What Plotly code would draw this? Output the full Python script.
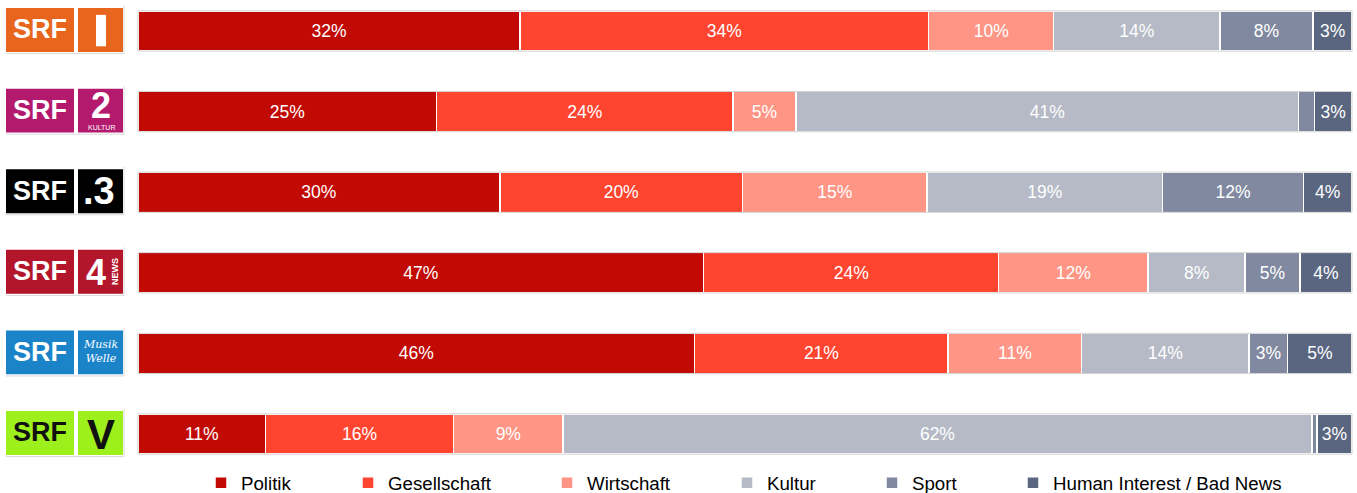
import plotly.graph_objects as go

# ---------------- data ----------------
stations = ["SRF 1", "SRF 2 Kultur", "SRF 3", "SRF 4 News", "SRF Musikwelle", "SRF Virus"]
categories = ["Politik", "Gesellschaft", "Wirtschaft", "Kultur", "Sport", "Human Interest / Bad News"]

politik      = [31.5, 24.6, 29.8, 46.6, 45.9, 10.5]
gesellschaft = [33.7, 24.4, 20.0, 24.3, 20.9, 15.5]
wirtschaft   = [10.3, 5.2, 15.2, 12.3, 11.0, 9.0]
kultur       = [13.7, 41.4, 19.4, 8.0, 13.8, 61.7]
sport        = [7.7, 1.3, 11.6, 4.5, 3.2, 0.4]
human        = [3.2, 3.1, 4.0, 4.3, 5.3, 2.9]

politik_lbl      = ["32%", "25%", "30%", "47%", "46%", "11%"]
gesellschaft_lbl = ["34%", "24%", "20%", "24%", "21%", "16%"]
wirtschaft_lbl   = ["10%", "5%", "15%", "12%", "11%", "9%"]
kultur_lbl       = ["14%", "41%", "19%", "8%", "14%", "62%"]
sport_lbl        = ["8%", "", "12%", "5%", "3%", ""]
human_lbl        = ["3%", "3%", "4%", "4%", "5%", "3%"]

series = [politik, gesellschaft, wirtschaft, kultur, sport, human]
labels = [politik_lbl, gesellschaft_lbl, wirtschaft_lbl, kultur_lbl, sport_lbl, human_lbl]
colors = ["#C10A04", "#FF4530", "#FF9585", "#B5BAC6", "#8089A0", "#5A6680"]

# ---------------- layout helpers ----------------
W_FIG, H_FIG = 1357, 493
M_L, M_R, M_T, M_B = 138, 5, 0, 33
PW = W_FIG - M_L - M_R
PH = H_FIG - M_T - M_B
ROW = 80.6
FIRST = 31.0
y_top = -FIRST / ROW
y_bot = y_top + PH / ROW


def px(x):
    return (x - M_L) / PW


FONT = "Liberation Sans, Arial, sans-serif"

fig = go.Figure()
legend_text_x = [241, 388, 587, 767, 912, 1053]
for k, (name, vals, lbl, col) in enumerate(zip(categories, series, labels, colors)):
    lg = "legend" if k == 0 else f"legend{k+1}"
    fig.add_trace(go.Bar(
        y=stations, x=vals, name=name, orientation="h",
        marker=dict(color=col, line=dict(color="white", width=1.5)),
        text=lbl, texttemplate="%{text}", textposition="inside",
        insidetextanchor="middle", textangle=0, constraintext="none",
        textfont=dict(color="white", size=17.5, family=FONT),
        width=0.5, legend=lg, hoverinfo="name+x",
    ))

shapes = []
annotations = []
logo_colors = ["#E8651E", "#B31A6E", "#000000", "#B3152A", "#1B84C9", "#9EF01C"]
logo_text = ["white", "white", "white", "white", "white", "#111111"]
for i, st in enumerate(stations):
    # light grey frame round the bar
    shapes.append(dict(type="rect", xref="paper", yref="y", x0=0, x1=1,
                       y0=i - 0.25, y1=i + 0.25,
                       line=dict(color="#D2D2D2", width=1), fillcolor="rgba(0,0,0,0)",
                       layer="above"))
    # logo boxes
    y0, y1 = i - 0.285, i + 0.26
    shapes.append(dict(type="rect", xref="paper", yref="y", x0=px(6), x1=px(74), y0=y0, y1=y1,
                       line=dict(width=0), fillcolor=logo_colors[i]))
    shapes.append(dict(type="rect", xref="paper", yref="y", x0=px(78), x1=px(123), y0=y0, y1=y1,
                       line=dict(width=0), fillcolor=logo_colors[i]))
    shapes.append(dict(type="line", xref="paper", yref="y", x0=px(6), x1=px(124), y0=y1 + 0.02, y1=y1 + 0.02,
                       line=dict(color="#D9D9D9", width=1)))
    shapes.append(dict(type="line", xref="paper", yref="y", x0=px(124), x1=px(124), y0=y0 - 0.03, y1=y1 + 0.02,
                       line=dict(color="#D9D9D9", width=1)))
    annotations.append(dict(xref="paper", yref="y", x=px(40), y=i - 0.02, text="<b>SRF</b>",
                            showarrow=False, xanchor="center", yanchor="middle",
                            font=dict(family=FONT, size=27, color=logo_text[i])))

# station-specific marks
shapes.append(dict(type="rect", xref="paper", yref="y", x0=px(96), x1=px(106), y0=-0.2, y1=0.19,
                   line=dict(width=0), fillcolor="white"))
extra = [
    dict(x=px(101), y=0.93, text="<b>2</b>", font=dict(family=FONT, size=36, color="white")),
    dict(x=px(101), y=1.2, text="KULTUR", font=dict(family=FONT, size=7, color="white")),
    dict(x=px(99), y=1.98, text="<b>.3</b>", font=dict(family=FONT, size=38, color="white")),
    dict(x=px(96), y=3.0, text="<b>4</b>", font=dict(family=FONT, size=36, color="white")),
    dict(x=px(115), y=2.99, text="<b>NEWS</b>", textangle=-90, font=dict(family=FONT, size=9, color="white")),
    dict(x=px(100.5), y=3.98, text="Musik<br>Welle",
         font=dict(family="DejaVu Serif", size=11, color="white", style="italic")),
    dict(x=px(100.5), y=5.0, text="<b>V</b>", font=dict(family=FONT, size=42, color="#111111")),
]
for a in extra:
    a.update(xref="paper", yref="y", showarrow=False, xanchor="center", yanchor="middle")
    annotations.append(a)

legend_common = dict(orientation="h", yanchor="middle", y=-0.05, xanchor="left",
                     font=dict(family=FONT, size=18.7, color="black"),
                     bgcolor="rgba(0,0,0,0)", borderwidth=0)
layout_legends = {}
for k, tx in enumerate(legend_text_x):
    key = "legend" if k == 0 else f"legend{k+1}"
    layout_legends[key] = dict(legend_common, x=px(tx - 40))

fig.update_layout(
    width=W_FIG, height=H_FIG,
    margin=dict(l=M_L, r=M_R, t=M_T, b=M_B, autoexpand=False),
    barmode="stack", barnorm="percent",
    plot_bgcolor="white", paper_bgcolor="white",
    xaxis=dict(visible=False, range=[0, 100], fixedrange=True),
    yaxis=dict(type="category", range=[y_bot, y_top], showticklabels=False,
               showgrid=False, zeroline=False, showline=False, ticks=""),
    showlegend=True,
    shapes=shapes, annotations=annotations,
    font=dict(family=FONT),
    **layout_legends,
)

fig.write_html(
    "out.html",
    config={"displayModeBar": False},
    post_script="document.body.style.margin='0';document.body.style.padding='0';document.body.style.overflow='hidden';",
)
